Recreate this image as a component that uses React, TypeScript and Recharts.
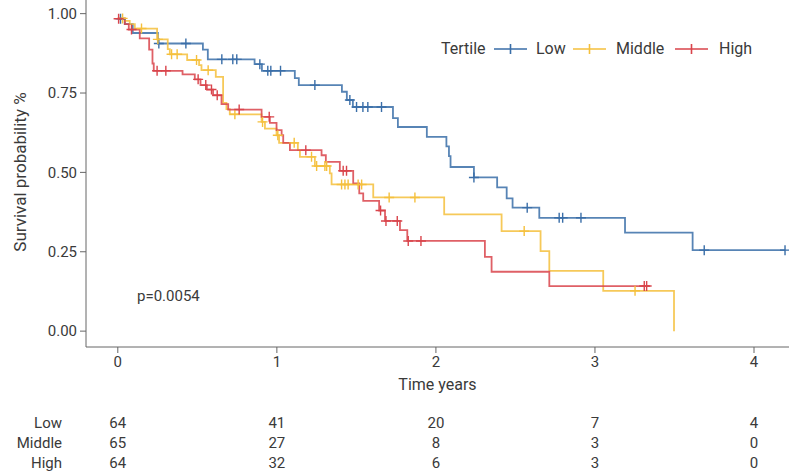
import { ComposedChart, ScatterChart, Line, Scatter, XAxis, YAxis } from 'recharts'

// Kaplan-Meier steps: time of each drop and the survival level after it
const lowT = [0, 0.044, 0.094, 0.252, 0.535, 0.566, 0.86, 0.906, 1.113, 1.138, 1.409, 1.44, 1.478, 1.73, 1.761, 1.943, 2.066, 2.082, 2.092, 2.239, 2.385, 2.445, 2.482, 2.65, 3.189, 3.614]
const lowS = [0.984, 0.967, 0.939, 0.906, 0.887, 0.856, 0.841, 0.82, 0.797, 0.775, 0.754, 0.728, 0.706, 0.671, 0.643, 0.612, 0.582, 0.551, 0.517, 0.484, 0.453, 0.418, 0.389, 0.357, 0.31, 0.255]
const lowEnd = 4.195
const lowCensor = [0.017, 0.258, 0.428, 0.654, 0.723, 0.748, 0.893, 0.943, 0.962, 1.023, 1.239, 1.459, 1.501, 1.541, 1.572, 1.658, 2.239, 2.574, 2.775, 2.797, 2.912, 3.687, 4.195]

const midT = [0, 0.044, 0.075, 0.107, 0.247, 0.314, 0.327, 0.436, 0.511, 0.526, 0.616, 0.662, 0.683, 0.704, 0.904, 0.925, 0.998, 1.014, 1.132, 1.145, 1.239, 1.333, 1.344, 1.606, 2.052, 2.413, 2.658, 2.713, 3.052, 3.497]
const midS = [0.985, 0.977, 0.967, 0.953, 0.919, 0.888, 0.872, 0.854, 0.838, 0.822, 0.801, 0.719, 0.699, 0.683, 0.659, 0.638, 0.617, 0.593, 0.57, 0.549, 0.52, 0.497, 0.462, 0.421, 0.368, 0.315, 0.252, 0.19, 0.127, 0.0]
const midEnd = 3.497
const midCensor = [0.03, 0.149, 0.252, 0.338, 0.373, 0.495, 0.568, 0.736, 0.91, 1.006, 1.109, 1.218, 1.25, 1.302, 1.313, 1.407, 1.428, 1.448, 1.511, 1.533, 1.706, 1.868, 2.555, 3.252]

const highT = [0, 0.044, 0.069, 0.138, 0.197, 0.218, 0.226, 0.407, 0.484, 0.52, 0.56, 0.599, 0.652, 0.694, 0.904, 0.956, 0.998, 1.03, 1.04, 1.082, 1.281, 1.308, 1.396, 1.48, 1.518, 1.543, 1.643, 1.68, 1.774, 1.82, 2.308, 2.35, 2.713]
const highS = [0.984, 0.967, 0.95, 0.922, 0.887, 0.843, 0.82, 0.809, 0.793, 0.775, 0.761, 0.743, 0.715, 0.698, 0.675, 0.656, 0.633, 0.617, 0.593, 0.57, 0.554, 0.533, 0.505, 0.465, 0.434, 0.41, 0.38, 0.347, 0.318, 0.284, 0.234, 0.187, 0.142]
const highEnd = 3.346
const highCensor = [0.005, 0.086, 0.247, 0.302, 0.505, 0.553, 0.589, 0.625, 0.763, 0.952, 1.182, 1.417, 1.438, 1.652, 1.686, 1.757, 1.826, 1.906, 3.31, 3.325]

// numbers at risk
const riskTimes = [0, 1, 2, 3, 4]
const riskRows = ['Low', 'Middle', 'High']
const riskLow = [64, 41, 20, 7, 4]
const riskMid = [65, 27, 8, 3, 0]
const riskHigh = [64, 32, 6, 3, 0]

const BLUE = '#3a6ea8'
const YELLOW = '#f5c03c'
const RED = '#d9444b'
const TEXT = '#3a3a3a'
const FONT = 'Roboto, "DejaVu Sans", sans-serif'

const steps = (T: number[], S: number[], end: number) =>
  [...T.map((t, i) => ({ t, s: S[i] })), { t: end, s: S[S.length - 1] }]

const levelAt = (T: number[], S: number[], t: number) => {
  let s = S[0]
  T.forEach((x, i) => { if (x <= t) s = S[i] })
  return s
}

const marks = (T: number[], S: number[], C: number[]) => C.map((t) => ({ t, s: levelAt(T, S, t) }))

const cross = (color: string) => (props: any) => {
  const { cx, cy } = props
  if (cx == null || cy == null) return <g />
  return <path d={`M${cx - 5},${cy}h10M${cx},${cy - 5}v10`} stroke={color} strokeWidth={1.4} fill="none" />
}

const LegendIcon = ({ color }: { color: string }) => (
  <svg width={33} height={12} style={{ display: 'block' }}>
    <path d="M0,6h33M16.5,1v10" stroke={color} strokeWidth={1.6} />
  </svg>
)

const riskData = [riskLow, riskMid, riskHigh].flatMap((row, r) =>
  row.map((n, i) => ({ t: riskTimes[i], r, n }))
)

const tickStyle = { fontSize: 15, fill: TEXT, fontFamily: FONT }

export default function App() {
  const series = [
    { T: lowT, S: lowS, end: lowEnd, C: lowCensor, color: BLUE },
    { T: midT, S: midS, end: midEnd, C: midCensor, color: YELLOW },
    { T: highT, S: highS, end: highEnd, C: highCensor, color: RED },
  ]
  return (
    <div style={{ position: 'absolute', left: 0, top: 0, width: 789, height: 473, background: '#fff', fontFamily: FONT, color: TEXT }}>
      <ComposedChart width={789} height={400} margin={{ top: 0, right: 0, left: 0, bottom: 0 }}>
        <XAxis
          type="number"
          dataKey="t"
          domain={[-0.2, 4.22]}
          ticks={[0, 1, 2, 3, 4]}
          allowDataOverflow
          height={53}
          tickSize={6}
          tickMargin={3}
          stroke="#666"
          tick={tickStyle}
          label={{ value: 'Time years', position: 'insideBottom', offset: 10, style: { fontSize: 16, fill: TEXT, fontFamily: FONT } }}
        />
        <YAxis
          type="number"
          dataKey="s"
          domain={[-0.05, 1.043]}
          ticks={[0, 0.25, 0.5, 0.75, 1]}
          allowDataOverflow
          width={86}
          tickSize={6}
          tickMargin={3}
          stroke="#666"
          tick={tickStyle}
          tickFormatter={(v: number) => v.toFixed(2)}
        />
        {series.map((d, i) => (
          <Line
            key={`l${i}`}
            data={steps(d.T, d.S, d.end)}
            dataKey="s"
            type="stepAfter"
            stroke={d.color}
            strokeWidth={1.8}
            strokeOpacity={0.85}
            dot={false}
            activeDot={false}
            isAnimationActive={false}
          />
        ))}
        {series.map((d, i) => (
          <Scatter
            key={`c${i}`}
            data={marks(d.T, d.S, d.C)}
            dataKey="s"
            shape={cross(d.color)}
            isAnimationActive={false}
          />
        ))}
      </ComposedChart>

      <div style={{ position: 'absolute', left: 20, top: 172, transform: 'translate(-50%, -50%) rotate(-90deg)', whiteSpace: 'nowrap', fontSize: 17 }}>
        Survival probability %
      </div>

      <div style={{ position: 'absolute', left: 137, top: 287, fontSize: 15 }}>p=0.0054</div>

      <div style={{ position: 'absolute', top: 39, left: 0, fontSize: 16, lineHeight: '20px' }}>
        <span style={{ position: 'absolute', left: 441 }}>Tertile</span>
        <span style={{ position: 'absolute', left: 494, top: 4 }}><LegendIcon color={BLUE} /></span>
        <span style={{ position: 'absolute', left: 536 }}>Low</span>
        <span style={{ position: 'absolute', left: 573, top: 4 }}><LegendIcon color={YELLOW} /></span>
        <span style={{ position: 'absolute', left: 616 }}>Middle</span>
        <span style={{ position: 'absolute', left: 675, top: 4 }}><LegendIcon color={RED} /></span>
        <span style={{ position: 'absolute', left: 719 }}>High</span>
      </div>

      <div style={{ position: 'absolute', left: 0, top: 413 }}>
        <ScatterChart width={789} height={60} margin={{ top: 0, right: 0, left: 0, bottom: 0 }}>
          <XAxis type="number" dataKey="t" domain={[-0.2, 4.22]} allowDataOverflow hide />
          <YAxis
            type="number"
            dataKey="r"
            domain={[-0.5, 2.5]}
            ticks={[0, 1, 2]}
            interval={0}
            reversed
            width={86}
            axisLine={false}
            tickLine={false}
            tickSize={0}
            tickMargin={24}
            tick={tickStyle}
            tickFormatter={(v: number) => riskRows[v]}
          />
          <Scatter
            data={riskData}
            isAnimationActive={false}
            shape={(p: any) => (
              <text x={p.cx} y={p.cy} textAnchor="middle" dominantBaseline="central" fontSize={15} fill={TEXT} fontFamily={FONT}>
                {p.payload.n}
              </text>
            )}
          />
        </ScatterChart>
      </div>
    </div>
  )
}
